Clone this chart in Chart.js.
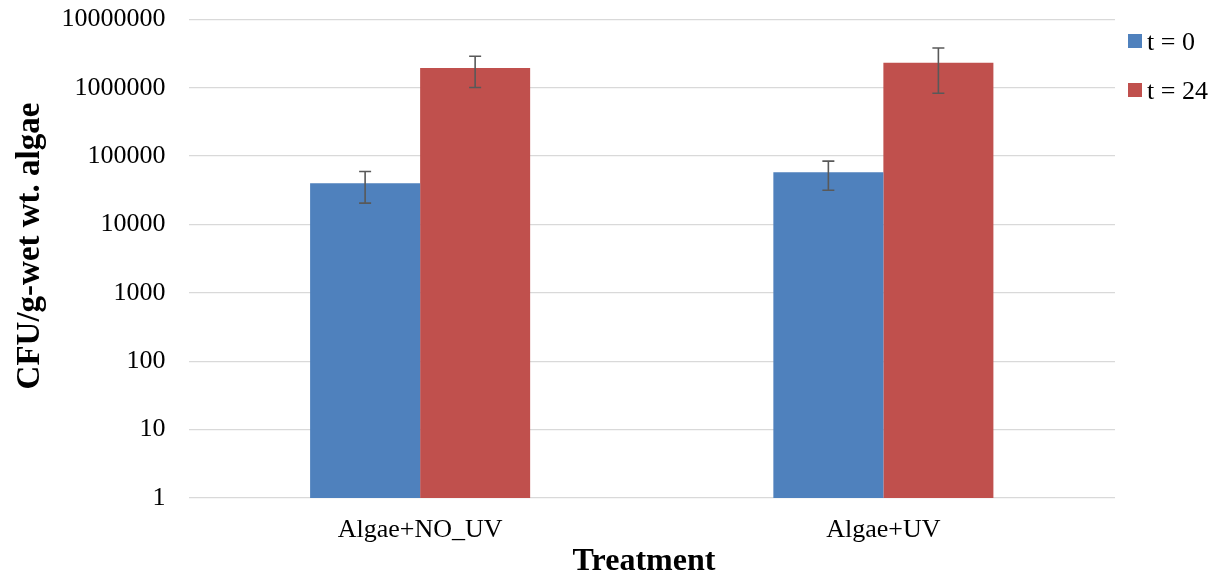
<!DOCTYPE html>
<html>
<head>
<meta charset="utf-8">
<script src="https://cdn.jsdelivr.net/npm/chart.js@4/dist/chart.umd.min.js"></script>
<style>
  html, body { margin: 0; padding: 0; background: #ffffff; }
  #wrap { width: 1222px; height: 577px; position: relative; }
</style>
</head>
<body>
<div id="wrap"><canvas id="chart" width="1222" height="577"></canvas></div>
<script>
// Treatments on the x axis
const categories = ['Algae+NO_UV', 'Algae+UV'];
// Series labels
const seriesNames = ['t = 0', 't = 24'];
// Mean CFU per gram wet weight of algae
const t0Values = [40000, 58000];
const t24Values = [1940000, 2320000];
// Error bar half-widths (± around the mean)
const t0Errors = [19500, 26400];
const t24Errors = [935000, 1490000];
// Log-axis tick values
const yTicks = [1, 10, 100, 1000, 10000, 100000, 1000000, 10000000];
// Axis titles
const xTitle = 'Treatment';
const yTitle = 'CFU/g-wet wt. algae';

const FONT = '"Liberation Serif", "Times New Roman", serif';

// Error bars drawn over each bar through the y scale
const errorBarPlugin = {
  id: 'errorBars',
  afterDatasetsDraw(chart) {
    const ctx = chart.ctx;
    const yScale = chart.scales.y;
    ctx.save();
    ctx.strokeStyle = '#595959';
    ctx.lineWidth = 1.6;
    chart.data.datasets.forEach((ds, di) => {
      const meta = chart.getDatasetMeta(di);
      meta.data.forEach((bar, i) => {
        const v = ds.data[i];
        const e = ds.errors[i];
        const yTop = yScale.getPixelForValue(v + e);
        const yBot = yScale.getPixelForValue(v - e);
        const x = bar.x;
        const cap = 6;
        ctx.beginPath();
        ctx.moveTo(x, yTop); ctx.lineTo(x, yBot);
        ctx.moveTo(x - cap, yTop); ctx.lineTo(x + cap, yTop);
        ctx.moveTo(x - cap, yBot); ctx.lineTo(x + cap, yBot);
        ctx.stroke();
      });
    });
    ctx.restore();
  }
};

// Legend at the upper right and the two bold axis titles
const decorPlugin = {
  id: 'decor',
  afterDraw(chart) {
    const ctx = chart.ctx;
    ctx.save();
    ctx.font = '26px ' + FONT;
    ctx.textBaseline = 'middle';
    ctx.textAlign = 'left';
    const x0 = 1128, y0 = 41, step = 49, box = 14;
    chart.data.datasets.forEach((ds, i) => {
      const cy = y0 + i * step;
      ctx.fillStyle = ds.backgroundColor;
      ctx.fillRect(x0, cy - box / 2, box, box);
      ctx.fillStyle = '#000000';
      ctx.fillText(ds.label, x0 + 19, cy + 2);
    });

    ctx.fillStyle = '#000000';
    ctx.font = 'bold 32px ' + FONT;
    ctx.textAlign = 'center';
    ctx.textBaseline = 'alphabetic';
    ctx.fillText(xTitle, 644, 570);

    ctx.font = 'bold 33px ' + FONT;
    ctx.translate(39, 246);
    ctx.rotate(-Math.PI / 2);
    ctx.fillText(yTitle, 0, 0);
    ctx.restore();
  }
};

new Chart(document.getElementById('chart'), {
  type: 'bar',
  data: {
    labels: categories,
    datasets: [
      { label: seriesNames[0], data: t0Values, errors: t0Errors, backgroundColor: '#4F81BD', borderWidth: 0 },
      { label: seriesNames[1], data: t24Values, errors: t24Errors, backgroundColor: '#C0504D', borderWidth: 0 }
    ]
  },
  options: {
    responsive: false,
    animation: false,
    layout: { padding: { top: 19.3, right: 107, left: 0, bottom: 0 } },
    datasets: { bar: { categoryPercentage: 0.475, barPercentage: 1.0 } },
    plugins: {
      legend: { display: false },
      tooltip: { enabled: false }
    },
    scales: {
      x: {
        grid: { display: false, drawTicks: false },
        border: { display: false },
        ticks: { color: '#000000', font: { family: FONT, size: 26 }, padding: 17 },
        afterFit(scale) { scale.height = 79; }
      },
      y: {
        type: 'logarithmic',
        min: 1,
        max: 10000000,
        grid: { color: '#d9d9d9', lineWidth: 1.3, drawTicks: true, tickLength: 23, tickColor: 'rgba(0,0,0,0)' },
        border: { display: false },
        afterBuildTicks(scale) { scale.ticks = yTicks.map(v => ({ value: v })); },
        ticks: {
          color: '#000000',
          font: { family: FONT, size: 26 },
          padding: 0,
          callback: (value) => String(value)
        },
        afterFit(scale) { scale.width = 188.5; }
      }
    }
  },
  plugins: [errorBarPlugin, decorPlugin]
});
</script>
</body>
</html>
